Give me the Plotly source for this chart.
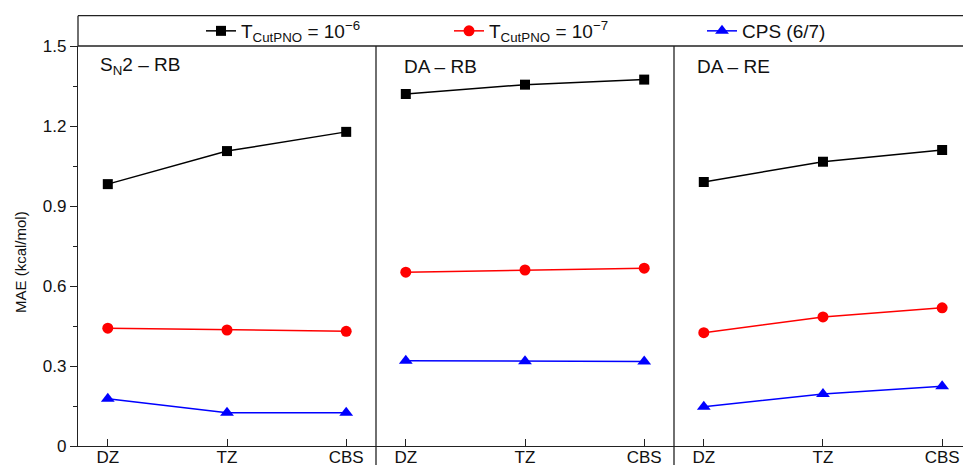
import plotly.graph_objects as go

categories = ["DZ", "TZ", "CBS"]
panel_titles = ["S<sub>N</sub>2 – RB", "DA – RB", "DA – RE"]
series_names = ["T<sub>CutPNO</sub> = 10<sup>−6</sup>",
                "T<sub>CutPNO</sub> = 10<sup>−7</sup>",
                "CPS (6/7)"]
y_title = "MAE (kcal/mol)"

sn2_rb_t6 = [0.982, 1.106, 1.178]
sn2_rb_t7 = [0.442, 0.435, 0.430]
sn2_rb_cps = [0.177, 0.125, 0.125]

da_rb_t6 = [1.320, 1.355, 1.374]
da_rb_t7 = [0.652, 0.660, 0.667]
da_rb_cps = [0.320, 0.318, 0.317]

da_re_t6 = [0.990, 1.066, 1.110]
da_re_t7 = [0.425, 0.484, 0.518]
da_re_cps = [0.147, 0.195, 0.224]

yticks = [0, 0.3, 0.6, 0.9, 1.2, 1.5]
ytick_labels = ["0", "0.3", "0.6", "0.9", "1.2", "1.5"]

panels = [
    [sn2_rb_t6, sn2_rb_t7, sn2_rb_cps],
    [da_rb_t6, da_rb_t7, da_rb_cps],
    [da_re_t6, da_re_t7, da_re_cps],
]

colors = ["#000000", "#ff0000", "#0000ff"]
symbols = ["square", "circle", "triangle-up"]
msizes = [10, 11, 12]

W, H = 963, 467
ML, MR, MT, MB = 78, 0, 46, 21
pw = W - ML - MR
ph = H - MT - MB
panel_px = 298.0
d1 = panel_px / pw
d2 = 2 * panel_px / pw

FONT = "Liberation Sans, Arial"
legend_ids = ["legend", "legend2", "legend3"]
legend_left_px = [201, 449, 702]

fig = go.Figure()
axes = ["x", "x2", "x3"]
for pi, data in enumerate(panels):
    for si, vals in enumerate(data):
        fig.add_trace(go.Scatter(
            x=categories, y=vals, xaxis=axes[pi], yaxis="y",
            mode="lines+markers", name=series_names[si],
            legendgroup=str(si), showlegend=(pi == 0), legend=legend_ids[si],
            line=dict(color=colors[si], width=1.5),
            marker=dict(symbol=symbols[si], size=msizes[si], color=colors[si]),
        ))

frame = "#222222"
lw = 1.3
xcommon = dict(type="category", showline=True, linecolor=frame, linewidth=lw,
               ticks="inside", ticklen=7, tickcolor=frame, tickwidth=lw,
               ticklabelstandoff=-5,
               tickfont=dict(family=FONT, size=17, color="#111"),
               showgrid=False, zeroline=False, fixedrange=True, automargin=False)

legend_common = dict(orientation="h", xanchor="left",
                     y=1 + (MT - 31) / ph, yanchor="middle",
                     font=dict(family=FONT, size=19, color="#111"),
                     bgcolor="rgba(0,0,0,0)", borderwidth=0,
                     itemclick=False, itemdoubleclick=False)

fig.update_layout(
    width=W, height=H,
    margin=dict(l=ML, r=MR, t=MT, b=MB, pad=0, autoexpand=False),
    paper_bgcolor="white", plot_bgcolor="white",
    font=dict(family=FONT, color="#111"),
    xaxis=dict(domain=[0, d1], range=[-0.25, 2.25], anchor="y", **xcommon),
    xaxis2=dict(domain=[d1, d2], range=[-0.25, 2.25], anchor="y", **xcommon),
    xaxis3=dict(domain=[d2, 1], range=[-0.25, 2.175], anchor="y", **xcommon),
    yaxis=dict(range=[0, 1.5], tickvals=yticks, ticktext=ytick_labels,
               ticks="outside", ticklen=7, tickwidth=lw, tickcolor=frame,
               minor=dict(dtick=0.15, ticks="outside", ticklen=4, tickcolor=frame, tickwidth=lw, showgrid=False),
               showline=True, linecolor=frame, linewidth=lw, showgrid=False, zeroline=False,
               tickfont=dict(family=FONT, size=17, color="#111"),
               automargin=False, fixedrange=True),
    showlegend=True,
    legend=dict(x=(legend_left_px[0] - ML) / pw, **legend_common),
    legend2=dict(x=(legend_left_px[1] - ML) / pw, **legend_common),
    legend3=dict(x=(legend_left_px[2] - ML) / pw, **legend_common),
)

shapes = []
top_leg = 1 + (MT - 15.7) / ph
shapes.append(dict(type="line", xref="paper", yref="paper", x0=0, x1=1, y0=top_leg, y1=top_leg,
                   line=dict(color=frame, width=lw)))
shapes.append(dict(type="line", xref="paper", yref="paper", x0=0, x1=1, y0=1, y1=1,
                   line=dict(color=frame, width=lw)))
shapes.append(dict(type="line", xref="paper", yref="paper", x0=0, x1=0, y0=1, y1=top_leg,
                   line=dict(color=frame, width=lw)))
bot = -(MB - 2) / ph
for xd in [d1, d2]:
    shapes.append(dict(type="line", xref="paper", yref="paper", x0=xd, x1=xd, y0=bot, y1=1,
                       line=dict(color=frame, width=lw)))
fig.update_layout(shapes=shapes)

title_x = [98, 402, 695]
for t, xp in zip(panel_titles, title_x):
    fig.add_annotation(text=t, xref="paper", yref="paper", x=(xp - ML) / pw, xanchor="left",
                       y=1 - (66 - MT) / ph, yanchor="middle", showarrow=False,
                       font=dict(family=FONT, size=19, color="#111"))

fig.add_annotation(text=y_title, xref="paper", yref="paper", x=(20 - ML) / pw, xanchor="center",
                   y=1 - (262 - MT) / ph, yanchor="middle", textangle=-90, showarrow=False,
                   font=dict(family=FONT, size=15, color="#111"))

fig.write_html("out.html", config={"displayModeBar": False},
               post_script="document.body.style.margin='0';document.body.style.overflow='hidden';")
